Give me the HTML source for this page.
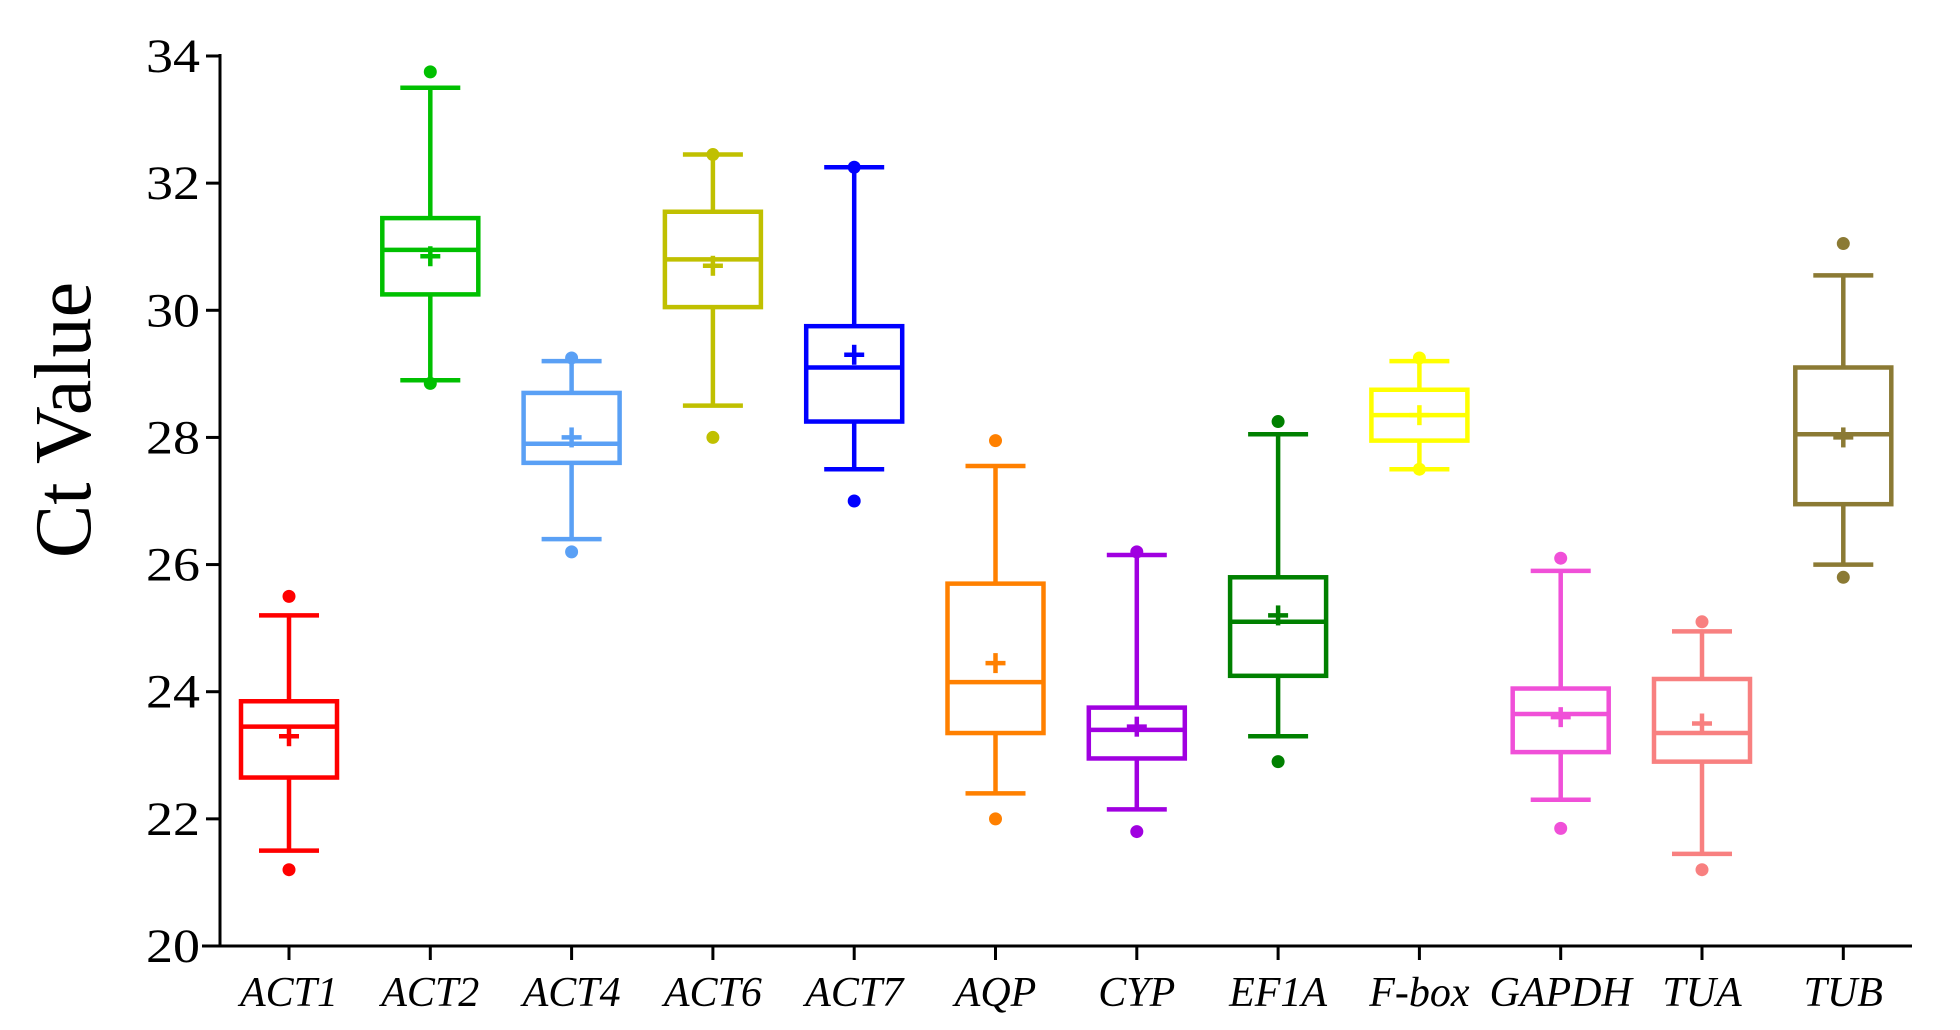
<!DOCTYPE html>
<html><head><meta charset="utf-8"><style>
html,body{margin:0;padding:0;background:#fff;}
svg{display:block;font-family:"Liberation Serif",serif;}
</style></head><body>
<svg id="chart" width="1960" height="1030">
<g id="axes"></g><g id="boxes"></g>
<text transform="translate(90,420) rotate(-90)" text-anchor="middle" font-size="80">Ct Value</text>
</svg>
<script>
const categories=["ACT1","ACT2","ACT4","ACT6","ACT7","AQP","CYP","EF1A","F-box","GAPDH","TUA","TUB"];
const whiskerLow=[21.5,28.9,26.4,28.5,27.5,22.4,22.15,23.3,27.5,22.3,21.45,26.0];
const q1=[22.65,30.25,27.6,30.05,28.25,23.35,22.95,24.25,27.95,23.05,22.9,26.95];
const median=[23.45,30.95,27.9,30.8,29.1,24.15,23.4,25.1,28.35,23.65,23.35,28.05];
const q3=[23.85,31.45,28.7,31.55,29.75,25.7,23.75,25.8,28.75,24.05,24.2,29.1];
const whiskerHigh=[25.2,33.5,29.2,32.45,32.25,27.55,26.15,28.05,29.2,25.9,24.95,30.55];
const meanVals=[23.3,30.85,28.0,30.7,29.3,24.45,23.45,25.2,28.35,23.6,23.5,28.0];
const outLow=[21.2,28.85,26.2,28.0,27.0,22.0,21.8,22.9,27.5,21.85,21.2,25.8];
const outHigh=[25.5,33.75,29.25,32.45,32.25,27.95,26.2,28.25,29.25,26.1,25.1,31.05];
const colors=["#ff0000","#00c000","#5aa0f5","#c0c000","#0000ff","#ff8000","#a000e0","#008000","#ffff00","#f050d8","#f88080","#8b7a34"];
const yTicks=[20,22,24,26,28,30,32,34];
const NS="http://www.w3.org/2000/svg";
const X0=220,X1=1912,Y0=946,Y1=56,ymin=20,ymax=34,first=289,step=141.3;
const y=v=>Y0-(v-ymin)/(ymax-ymin)*(Y0-Y1);
const x=i=>first+i*step;
function mk(tag,attrs,parent){const e=document.createElementNS(NS,tag);for(const k in attrs)e.setAttribute(k,attrs[k]);parent.appendChild(e);return e;}
const axes=document.getElementById('axes'),boxes=document.getElementById('boxes');
let e=mk('line',{x1:X0,y1:Y0,x2:X0,y2:Y1-2,stroke:'#000','stroke-width':3},axes);

e=mk('line',{x1:X0-18,y1:Y0,x2:X1,y2:Y0,stroke:'#000','stroke-width':3},axes);

yTicks.forEach(t=>{
 let l=mk('line',{x1:X0-14,x2:X0,y1:y(t),y2:y(t),stroke:'#000','stroke-width':3},axes);
 
 let tx=mk('text',{x:X0-20,y:y(t)+16,'text-anchor':'end','font-size':48,textLength:54,lengthAdjust:'spacingAndGlyphs'},axes);tx.textContent=t;
 
});
categories.forEach((c,i)=>{
 const cx=x(i),col=colors[i],sw=4.5;
 let l=mk('line',{x1:cx,x2:cx,y1:Y0,y2:Y0+14,stroke:'#000','stroke-width':3},axes);
 
 let tx=mk('text',{x:cx,y:1006,'text-anchor':'middle','font-size':42,'font-style':'italic'},axes);tx.textContent=c;
 
 const g=mk('g',{stroke:col,'stroke-width':sw,fill:'none'},boxes);
 
 
 mk('line',{x1:cx,x2:cx,y1:y(whiskerLow[i]),y2:y(q1[i])},g);
 mk('line',{x1:cx,x2:cx,y1:y(q3[i]),y2:y(whiskerHigh[i])},g);
 mk('line',{x1:cx-30,x2:cx+30,y1:y(whiskerLow[i]),y2:y(whiskerLow[i])},g);
 mk('line',{x1:cx-30,x2:cx+30,y1:y(whiskerHigh[i]),y2:y(whiskerHigh[i])},g);
 mk('rect',{x:cx-48,y:y(q3[i]),width:96,height:y(q1[i])-y(q3[i])},g);
 mk('line',{x1:cx-48,x2:cx+48,y1:y(median[i]),y2:y(median[i])},g);
 mk('line',{x1:cx-10,x2:cx+10,y1:y(meanVals[i]),y2:y(meanVals[i])},g);
 mk('line',{x1:cx,x2:cx,y1:y(meanVals[i])-10,y2:y(meanVals[i])+10},g);
 let o1=mk('circle',{cx:cx,cy:y(outLow[i]),r:6.5,fill:col,stroke:'none'},g);
 
 let o2=mk('circle',{cx:cx,cy:y(outHigh[i]),r:6.5,fill:col,stroke:'none'},g);
 
});
</script>
</body></html>
